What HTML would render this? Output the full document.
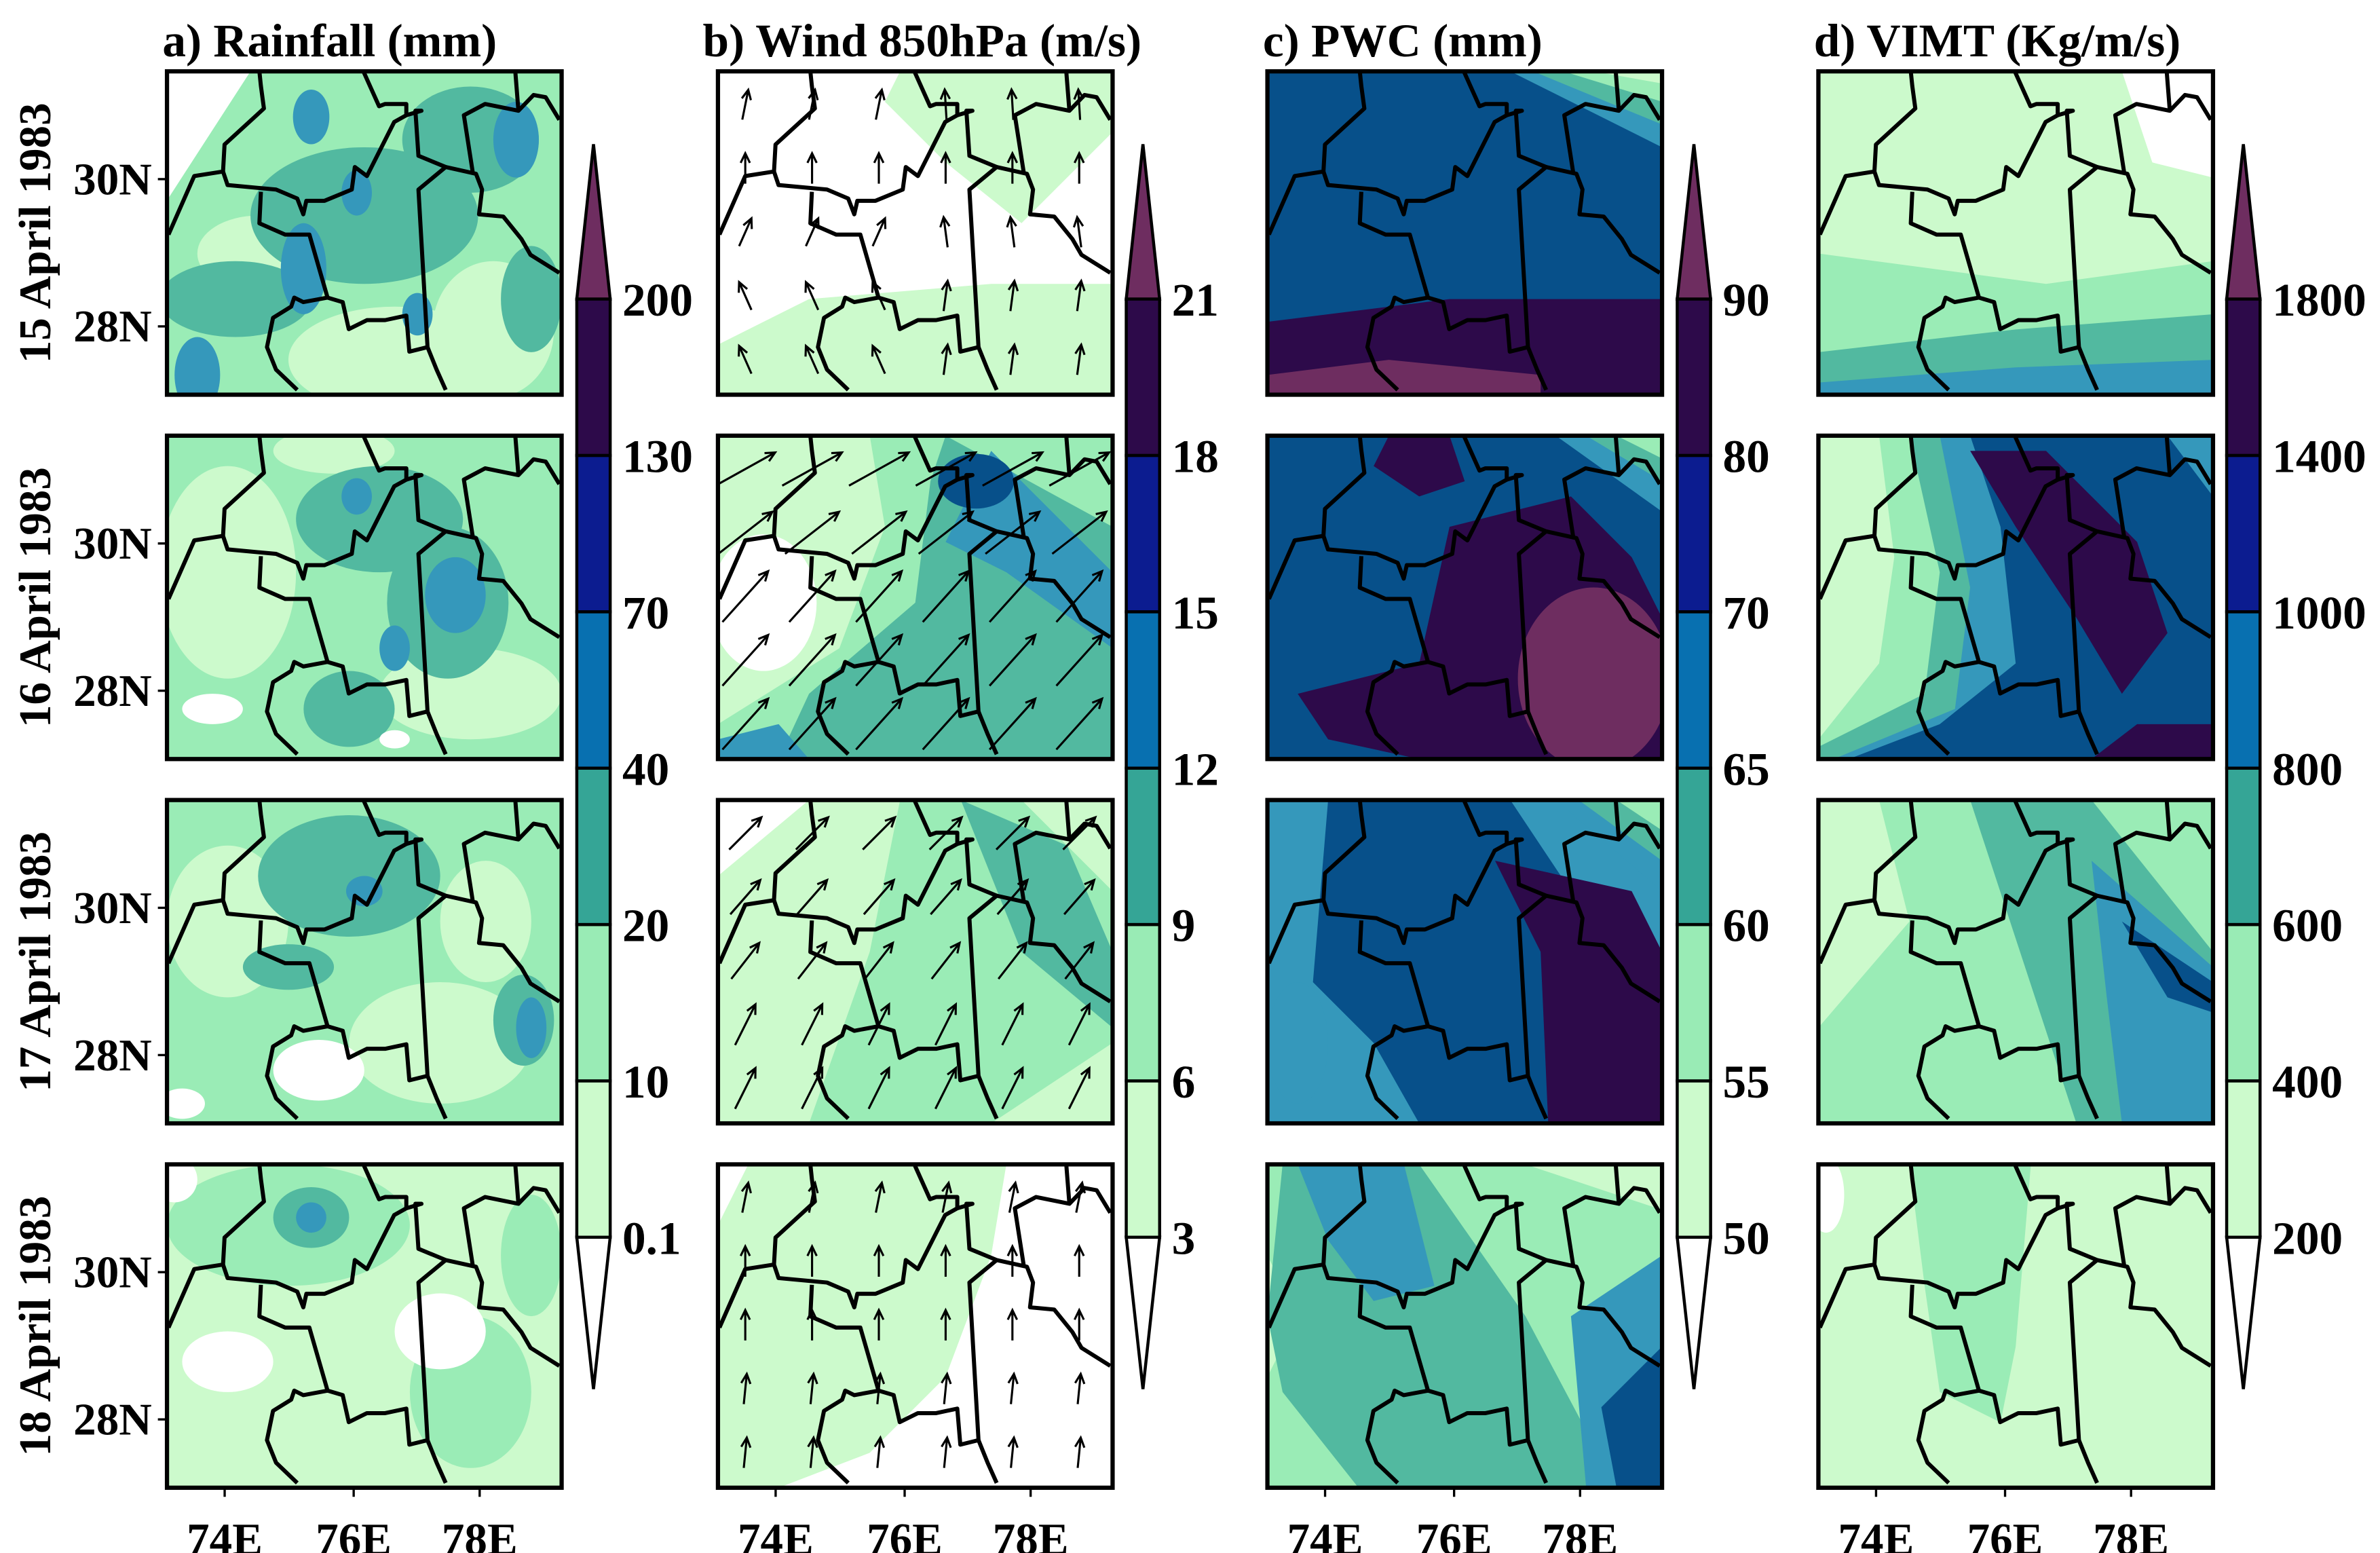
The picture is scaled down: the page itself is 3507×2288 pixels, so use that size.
<!DOCTYPE html>
<html><head><meta charset="utf-8"><style>
html,body{margin:0;padding:0;background:#fff;}
svg{display:block;}
text{font-family:"Liberation Serif",serif;font-weight:bold;fill:#000;}
</style></head><body>
<svg id="fig" xmlns="http://www.w3.org/2000/svg" width="3507" height="2288" viewBox="0 0 1568 1023">
<defs>
<g id="borders" transform="scale(0.1996,0.1483) translate(-40,-55)" fill="none" stroke="#000" stroke-width="6" stroke-linejoin="round">
<path vector-effect="non-scaling-stroke" d="M345,55 L350,120 L360,220 L230,380 L225,500 L130,520 L45,780"/>
<path vector-effect="non-scaling-stroke" d="M225,500 L240,560 L400,580 L470,620 L490,690 L500,630 L560,630 L650,580 L660,480 L700,520 L790,280 L830,250 L830,200 L760,200 L740,210 L690,60"/>
<path vector-effect="non-scaling-stroke" d="M350,590 L345,730 L430,780 L510,780 L570,1060 L490,1080 L460,1060 L450,1100 L390,1150 L370,1280 L400,1380 L470,1470"/>
<path vector-effect="non-scaling-stroke" d="M570,1060 L620,1080 L640,1200 L700,1160 L760,1160 L830,1140 L840,1300 L900,1280 L930,1380 L960,1470"/>
<path vector-effect="non-scaling-stroke" d="M900,1280 L870,580 L960,480 L870,430 L860,230 L880,230 L830,250"/>
<path vector-effect="non-scaling-stroke" d="M960,480 L1060,510 L1080,580 L1070,690 L1150,700 L1210,800 L1240,870 L1335,950"/>
<path vector-effect="non-scaling-stroke" d="M1050,510 L1020,250 L1090,200 L1200,230 L1250,160 L1290,170 L1335,270"/>
<path vector-effect="non-scaling-stroke" d="M1200,230 L1190,60"/>
</g>
</defs>
</svg>
<script>
const NS="http://www.w3.org/2000/svg";
const svg=document.getElementById('fig');
function el(tag,attrs,parent){const e=document.createElementNS(NS,tag);for(const k in attrs)e.setAttribute(k,attrs[k]);(parent||svg).appendChild(e);return e;}

const colX=[110,473,835,1198];
const rowY=[47,287,527,767];
const W=260,H=213;
const titles=["a) Rainfall (mm)","b) Wind 850hPa (m/s)","c) PWC (mm)","d) VIMT (Kg/m/s)"];
const titleX=[107,463,832,1195];
const dates=["15 April 1983","16 April 1983","17 April 1983","18 April 1983"];
const latLabels=["30N","28N"];
const latRel=[71,168];
const lonLabels=["74E","76E","78E"];
const lonRel=[38,123,206];
const cbLabelsA=["200","130","70","40","20","10","0.1"];
const cbLabelsB=["21","18","15","12","9","6","3"];
const cbLabelsC=["90","80","70","65","60","55","50"];
const cbLabelsD=["1800","1400","1000","800","600","400","200"];
const cbLabels=[cbLabelsA,cbLabelsB,cbLabelsC,cbLabelsD];
const M=["#ccfacc","#9aecb6","#52b9a0","#3598bb","#07508a","#2d0a4a","#6e2d60","#ffffff"];
const CB=["#ccfacc","#99ebb5","#35a596","#0870b0","#0c1c90","#2d0a4a"];
const cbTop=197,cbBot=815,cbTipTop=95,cbTipBot=915,cbW=22;
const cbX=[380,742,1105,1467];

const shapes={
"0-0":[[1,'r'],[7,'p',"0,0 55,0 0,85"],[0,'e',60,120,40,25],[0,'e',150,190,70,35],[0,'e',215,170,40,45],[2,'e',130,95,75,45],[2,'e',45,150,50,25],[2,'e',240,150,20,35],[2,'e',200,45,45,35],[3,'e',230,45,15,25],[3,'e',95,30,12,18],[3,'e',90,130,15,30],[3,'e',165,160,10,14],[3,'e',20,200,15,25],[3,'e',125,80,10,15]],
"1-0":[[1,'r'],[0,'e',40,90,45,70],[0,'e',200,170,60,30],[0,'e',110,10,40,15],[2,'e',140,55,55,35],[2,'e',185,110,40,50],[2,'e',120,180,30,25],[3,'e',190,105,20,25],[3,'e',150,140,10,15],[3,'e',125,40,10,12],[7,'e',30,180,20,10],[7,'e',150,200,10,6]],
"2-0":[[1,'r'],[0,'e',40,80,40,50],[0,'e',180,160,60,40],[0,'e',210,80,30,40],[2,'e',120,50,60,40],[2,'e',80,110,30,15],[2,'e',235,145,20,30],[3,'e',240,150,10,20],[3,'e',130,60,12,10],[7,'e',100,178,30,20],[7,'e',10,200,15,10]],
"3-0":[[0,'r'],[1,'e',80,40,80,40],[1,'e',240,60,20,40],[1,'e',200,150,40,50],[2,'e',95,35,25,20],[3,'e',95,35,10,10],[7,'e',40,130,30,20],[7,'e',180,110,30,25],[7,'e',5,10,15,15]],
"0-1":[[7,'r'],[0,'p',"120,0 260,0 260,40 200,100 150,60 110,20"],[0,'p',"0,180 60,150 180,140 260,140 260,213 0,213"]],
"1-1":[[0,'r'],[1,'p',"100,0 260,0 260,213 0,213 0,190 80,140 110,60"],[2,'p',"150,0 260,60 260,213 40,213 60,170 130,110 140,30"],[3,'p',"180,10 260,90 260,140 190,90 150,70"],[4,'e',170,30,25,18],[3,'p',"0,200 40,190 60,213 0,213"],[7,'e',30,110,35,45]],
"2-1":[[0,'r'],[7,'p',"0,0 60,0 0,50"],[1,'p',"120,0 200,0 260,60 260,160 180,213 60,213 100,100"],[2,'p',"160,0 230,30 260,100 260,150 200,100"]],
"3-1":[[7,'r'],[0,'p',"20,0 190,0 180,60 150,140 100,190 40,213 0,213 0,40"]],
"0-2":[[4,'r'],[3,'p',"160,0 260,0 260,50"],[2,'p',"175,0 260,0 260,35"],[1,'p',"195,0 260,0 260,20"],[0,'p',"215,0 260,0 260,8"],[5,'p',"0,165 120,150 260,150 260,213 0,213"],[6,'p',"0,200 80,190 180,200 180,213 0,213"]],
"1-2":[[4,'r'],[3,'p',"190,0 260,0 260,50"],[2,'p',"210,0 260,0 260,30"],[1,'p',"230,0 260,0 260,15"],[5,'p',"80,0 120,0 130,30 100,40 70,20"],[5,'p',"120,60 200,40 240,80 260,120 260,213 100,213 40,200 20,170 100,150"],[6,'e',215,160,50,60]],
"2-2":[[3,'r'],[4,'p',"40,0 160,0 200,60 220,213 100,213 70,160 30,120"],[3,'p',"190,0 260,0 260,60"],[2,'p',"205,0 260,0 260,40"],[1,'p',"230,0 260,0 260,20"],[5,'p',"150,40 240,60 260,100 260,213 185,213 180,100"],[3,'e',20,160,20,40]],
"3-2":[[1,'r'],[0,'p',"0,60 20,100 0,140"],[2,'p',"10,0 100,0 170,100 230,213 60,213 10,150 0,100"],[3,'p',"20,0 90,0 110,80 70,90 40,50"],[3,'p',"200,100 260,60 260,213 210,213"],[4,'p',"220,160 260,120 260,213 230,213"],[0,'p',"170,0 260,0 260,30"]],
"0-3":[[0,'r'],[7,'p',"200,0 260,0 260,70 220,60"],[1,'p',"0,120 150,140 260,125 260,213 0,213"],[2,'p',"0,185 130,170 260,160 260,213 0,213"],[3,'p',"0,205 130,195 260,190 260,213 0,213"]],
"1-3":[[0,'r'],[1,'p',"40,0 260,0 260,213 0,213 0,200 40,150 50,80"],[2,'p',"60,0 260,0 260,213 0,213 0,205 70,170 80,90"],[3,'p',"80,0 260,0 260,213 10,213 90,180 100,100"],[4,'p',"100,0 230,0 260,40 260,213 20,213 80,190 130,150 120,60"],[5,'p',"100,10 150,10 210,70 230,130 200,170 170,120 130,60"],[5,'p',"180,213 210,190 260,190 260,213"]],
"2-3":[[0,'r'],[1,'p',"40,0 260,0 260,140 200,213 0,213 0,150 60,80"],[2,'p',"100,0 180,0 260,100 260,213 170,213"],[3,'p',"180,40 260,110 260,213 200,213 190,130"],[4,'p',"200,80 260,120 260,140 230,130"]],
"3-3":[[0,'r'],[1,'p',"60,0 140,0 130,120 120,170 80,150 70,80"],[7,'e',5,20,12,25]]
};
const vecU=[[0.2,0,0.4,-0.4],[0.9,0.9,0.9,0.9],[0.7,0.7,0.7,0.5],[0.2,0,0,0.1]];
const vecV=[[1,1,0.9,0.9],[0.5,0.7,1,1],[0.7,0.8,0.9,1],[1,1,1,1]];
const vecLen=[20,45,30,20];

titles.forEach((t,i)=>{const e=el('text',{x:titleX[i],y:37,'font-size':31});e.textContent=t;

});
dates.forEach((d,r)=>{const cy=rowY[r]+H/2;const e=el('text',{x:0,y:0,'font-size':30,'text-anchor':'middle',transform:`translate(33,${cy}) rotate(-90)`});e.textContent=d;

});

for(let c=0;c<4;c++){
  for(let r=0;r<4;r++){
    const x0=colX[c],y0=rowY[r];
    const g=el('g',{transform:`translate(${x0},${y0})`});
    
    
    const cp=el('clipPath',{id:'cp'+c+r},g);el('rect',{x:0,y:0,width:W,height:H},cp);
    const fill=el('g',{'clip-path':`url(#cp${c}${r})`},g);
    (shapes[r+'-'+c]||[]).forEach(s=>{
      const col=M[s[0]];
      if(s[1]==='r')el('rect',{x:0,y:0,width:W,height:H,fill:col},fill);
      else if(s[1]==='e')el('ellipse',{cx:s[2],cy:s[3],rx:s[4],ry:s[5],fill:col},fill);
      else el('polygon',{points:s[2],fill:col},fill);
    });
    const b=el('use',{href:'#borders'},fill);
    
    
    if(c===1){
      const ag=el('g',{stroke:'#000','stroke-width':1.4,fill:'none'},fill);
      for(let i=0;i<6;i++)for(let j=0;j<5;j++){
        const ax=18+i*44,ay=22+j*42;
        const u=vecU[r][Math.min(j,3)]*(i<3?1:(r===0?-0.3:1)),v=vecV[r][Math.min(j,3)];
        const n=Math.hypot(u,v),L=vecLen[r];
        const dx=u/n*L,dy=-v/n*L;
        const x1=ax-dx/2,y1=ay-dy/2,x2=ax+dx/2,y2=ay+dy/2;
        const ang=Math.atan2(dy,dx);
        const p=el('path',{d:`M${x1},${y1}L${x2},${y2}M${x2-7*Math.cos(ang-0.45)},${y2-7*Math.sin(ang-0.45)}L${x2},${y2}L${x2-7*Math.cos(ang+0.45)},${y2-7*Math.sin(ang+0.45)}`},ag);
        
        
      }
    }
    el('rect',{x:0,y:0,width:W,height:H,fill:'none',stroke:'#000','stroke-width':2.8},g);
    if(c===0){latLabels.forEach((l,k)=>{el('line',{x1:-6,x2:0,y1:latRel[k],y2:latRel[k],stroke:'#000','stroke-width':1.5},g);
      const t=el('text',{x:-10,y:latRel[k]+10,'font-size':30,'text-anchor':'end'},g);t.textContent=l;
      
      });}
    if(r===3){lonLabels.forEach((l,k)=>{el('line',{x1:lonRel[k],x2:lonRel[k],y1:H,y2:H+6,stroke:'#000','stroke-width':1.5},g);
      const t=el('text',{x:lonRel[k],y:H+44,'font-size':30,'text-anchor':'middle'},g);t.textContent=l;
      
      });}
  }
  const cx=cbX[c];
  const cg=el('g',{});
  
  
  const step=(cbBot-cbTop)/6;
  el('polygon',{points:`${cx},${cbTop} ${cx+cbW/2},${cbTipTop} ${cx+cbW},${cbTop}`,fill:'#6e2d60',stroke:'#000','stroke-width':2},cg);
  el('polygon',{points:`${cx},${cbBot} ${cx+cbW/2},${cbTipBot} ${cx+cbW},${cbBot}`,fill:'#fff',stroke:'#000','stroke-width':2},cg);
  for(let k=0;k<6;k++){
    el('rect',{x:cx,y:cbBot-(k+1)*step,width:cbW,height:step,fill:CB[k],stroke:'#000','stroke-width':2},cg);
  }
  cbLabels[c].forEach((l,k)=>{const t=el('text',{x:cx+30,y:cbTop+k*step+11,'font-size':31},cg);t.textContent=l;
    
    });
}
</script>
</body></html>
